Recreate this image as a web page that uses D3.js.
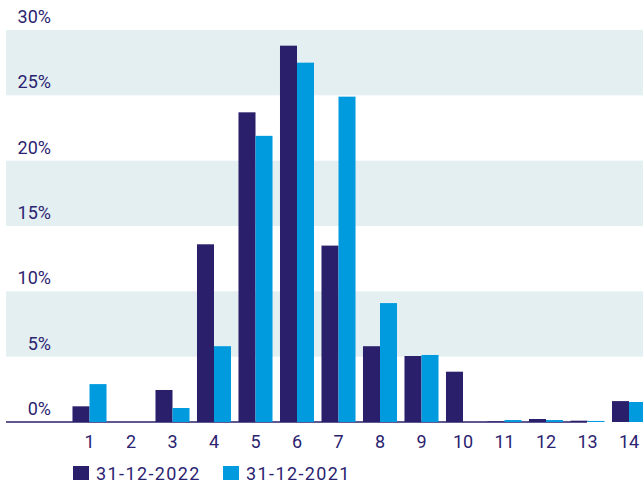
<!DOCTYPE html>
<html>
<head>
<meta charset="utf-8">
<script src="https://cdn.jsdelivr.net/npm/d3@7"></script>
<style>
  body { margin: 0; background: #fff; }
  text { font-family: Roboto, "Noto Sans", sans-serif; fill: #2b2370; }
</style>
</head>
<body>
<script>
// categories and series
const categories = ['1','2','3','4','5','6','7','8','9','10','11','12','13','14'];
const series2022 = [1.2, 0, 2.45, 13.6, 23.7, 28.8, 13.5, 5.8, 5.05, 3.85, 0.05, 0.23, 0.1, 1.6];
const series2021 = [2.9, 0, 1.07, 5.8, 21.9, 27.5, 24.9, 9.1, 5.13, 0, 0.15, 0.15, 0.08, 1.53];
const seriesNames = ['31-12-2022', '31-12-2021'];
const yTicks = [0, 5, 10, 15, 20, 25, 30];
const colors = ['#2a1f6b', '#009ade'];

const width = 643, height = 483;

const svg = d3.select('body').append('svg')
    .attr('width', width)
    .attr('height', height);

const y = d3.scaleLinear().domain([0, 30]).range([422, 30]);
const x = d3.scaleBand().domain(categories).range([68.75, 649.75]).paddingInner(0.18).paddingOuter(0.09);
const xs = d3.scaleBand().domain(seriesNames).range([0, x.bandwidth()]);

// shaded bands 25-30, 15-20, 5-10
const bands = [[25, 30], [15, 20], [5, 10]];
svg.selectAll('rect.band')
    .data(bands)
    .enter().append('rect')
    .attr('class', 'band')
    .attr('x', 6)
    .attr('width', width - 6)
    .attr('y', d => y(d[1]))
    .attr('height', d => y(d[0]) - y(d[1]))
    .attr('fill', '#e4eff2');

// y labels
svg.selectAll('text.ylab')
    .data(yTicks)
    .enter().append('text')
    .attr('class', 'ylab')
    .attr('x', 51)
    .attr('y', d => y(d) - 7)
    .attr('text-anchor', 'end')
    .style('font-size', '18px')
    .text(d => d + '%');

// baseline
svg.append('line')
    .attr('x1', 6).attr('x2', 587)
    .attr('y1', y(0)).attr('y2', y(0))
    .attr('stroke', '#2a1f6b')
    .attr('stroke-width', 1.5);

// bars
const rows = categories.map((c, i) => ({ cat: c, vals: [series2022[i], series2021[i]] }));
const groups = svg.selectAll('g.cat')
    .data(rows)
    .enter().append('g')
    .attr('class', 'cat')
    .attr('transform', d => 'translate(' + x(d.cat) + ',0)');

groups.selectAll('rect')
    .data(d => d.vals.map((v, j) => ({ v: v, s: seriesNames[j], j: j })))
    .enter().append('rect')
    .filter(d => d.v > 0)
    .attr('x', d => xs(d.s))
    .attr('width', xs.bandwidth())
    .attr('y', d => y(d.v))
    .attr('height', d => y(0) - y(d.v))
    .attr('fill', d => colors[d.j]);

// x labels
svg.selectAll('text.xlab')
    .data(categories)
    .enter().append('text')
    .attr('class', 'xlab')
    .attr('x', d => x(d) + x.bandwidth() / 2)
    .attr('y', 448)
    .attr('text-anchor', 'middle')
    .style('font-size', '18px')
    .text(d => d);

// legend
const legend = svg.selectAll('g.legend')
    .data(seriesNames)
    .enter().append('g')
    .attr('class', 'legend')
    .attr('transform', (d, i) => 'translate(' + (73 + i * 150) + ',0)');

legend.append('rect')
    .attr('x', 0).attr('y', 466)
    .attr('width', 16).attr('height', 14)
    .attr('fill', (d, i) => colors[i]);

legend.append('text')
    .attr('x', 23)
    .attr('y', 480)
    .style('font-size', '18px')
    .style('letter-spacing', '1.4px')
    .text(d => d);
</script>
</body>
</html>
